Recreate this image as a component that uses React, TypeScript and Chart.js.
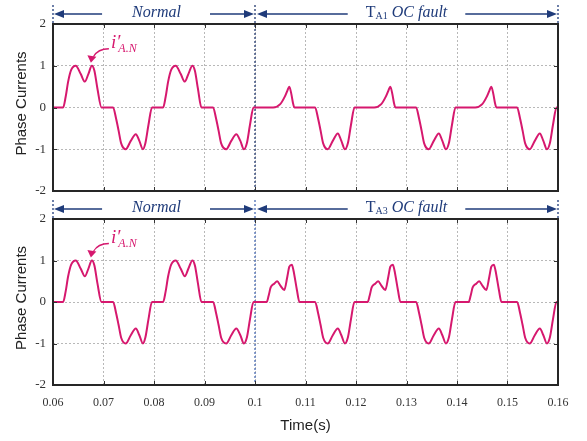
import React, { useEffect, useRef } from 'react';
import { Chart, registerables } from 'chart.js';

Chart.register(...registerables);

// ---------- data ----------
const xTicks = [0.06, 0.07, 0.08, 0.09, 0.1, 0.11, 0.12, 0.13, 0.14, 0.15, 0.16];
const xTickLabels = ['0.06', '0.07', '0.08', '0.09', '0.1', '0.11', '0.12', '0.13', '0.14', '0.15', '0.16'];
const yTicks = [-2, -1, 0, 1, 2];
const yTickLabels = ['-2', '-1', '0', '1', '2'];

const faultStart = 0.1;
const normalLabelAt = 0.0805;
const faultLabelAt = 0.13;
const markerAt = { t: 0.0677, v: 1 };

// Normal operation (both panels), 0.06 .. 0.1 s
const normalTime = [
  0.0600, 0.0620, 0.0625, 0.0630, 0.0636, 0.0645, 0.0655, 0.0663, 0.0670, 0.0677, 0.0682, 0.0688, 0.0696,
  0.0719, 0.0725, 0.0730, 0.0735, 0.0744, 0.0754, 0.0764, 0.0771, 0.0778, 0.0783, 0.0789, 0.0796,
  0.0818, 0.0823, 0.0828, 0.0834, 0.0843, 0.0853, 0.0861, 0.0868, 0.0876, 0.0881, 0.0887, 0.0894,
  0.0917, 0.0923, 0.0928, 0.0933, 0.0943, 0.0953, 0.0963, 0.0971, 0.0978, 0.0984, 0.0990, 0.0997,
];
const normalCurrent = [
  0, 0, 0.25, 0.62, 0.9, 1, 0.8, 0.62, 0.8, 1, 0.88, 0.45, 0,
  0, -0.27, -0.56, -0.86, -1, -0.8, -0.64, -0.8, -1, -0.85, -0.42, 0,
  0, 0.25, 0.62, 0.9, 1, 0.8, 0.62, 0.8, 1, 0.88, 0.45, 0,
  0, -0.27, -0.56, -0.86, -1, -0.8, -0.64, -0.8, -1, -0.85, -0.42, 0,
];

// T_A1 open-circuit fault (top panel), 0.1 .. 0.16 s
const faultA1Time = [
  0.1000, 0.1036, 0.1050, 0.1059, 0.1064, 0.1068, 0.1072, 0.1075, 0.1078,
  0.1119, 0.1125, 0.1130, 0.1135, 0.1144, 0.1154, 0.1164, 0.1171, 0.1178, 0.1184, 0.1190, 0.1197,
  0.1236, 0.1250, 0.1259, 0.1264, 0.1268, 0.1272, 0.1275, 0.1278,
  0.1319, 0.1325, 0.1330, 0.1335, 0.1344, 0.1354, 0.1364, 0.1371, 0.1378, 0.1384, 0.1390, 0.1397,
  0.1436, 0.1450, 0.1459, 0.1464, 0.1468, 0.1472, 0.1475, 0.1478,
  0.1519, 0.1525, 0.1530, 0.1535, 0.1544, 0.1554, 0.1564, 0.1571, 0.1578, 0.1584, 0.1590, 0.1597, 0.1600,
];
const faultA1Current = [
  0, 0, 0.08, 0.26, 0.4, 0.5, 0.32, 0.12, 0,
  0, -0.27, -0.56, -0.86, -1, -0.8, -0.62, -0.8, -1, -0.85, -0.42, 0,
  0, 0.08, 0.26, 0.4, 0.5, 0.32, 0.12, 0,
  0, -0.27, -0.56, -0.86, -1, -0.8, -0.62, -0.8, -1, -0.85, -0.42, 0,
  0, 0.08, 0.26, 0.4, 0.5, 0.32, 0.12, 0,
  0, -0.27, -0.56, -0.86, -1, -0.8, -0.62, -0.8, -1, -0.85, -0.42, 0, 0,
];

// T_A3 open-circuit fault (bottom panel), 0.1 .. 0.16 s
const faultA3Time = [
  0.1000, 0.1023, 0.1027, 0.1031, 0.1038, 0.1044, 0.1050, 0.1058, 0.1064, 0.1068, 0.1073, 0.1076, 0.1083, 0.1088,
  0.1119, 0.1125, 0.1130, 0.1135, 0.1144, 0.1154, 0.1164, 0.1171, 0.1178, 0.1184, 0.1190, 0.1197,
  0.1223, 0.1227, 0.1231, 0.1238, 0.1244, 0.1250, 0.1258, 0.1264, 0.1268, 0.1273, 0.1276, 0.1283, 0.1288,
  0.1319, 0.1325, 0.1330, 0.1335, 0.1344, 0.1354, 0.1364, 0.1371, 0.1378, 0.1384, 0.1390, 0.1397,
  0.1423, 0.1427, 0.1431, 0.1438, 0.1444, 0.1450, 0.1458, 0.1464, 0.1468, 0.1473, 0.1476, 0.1483, 0.1488,
  0.1519, 0.1525, 0.1530, 0.1535, 0.1544, 0.1554, 0.1564, 0.1571, 0.1578, 0.1584, 0.1590, 0.1597, 0.1600,
];
const faultA3Current = [
  0, 0, 0.15, 0.35, 0.44, 0.5, 0.4, 0.29, 0.61, 0.85, 0.9, 0.77, 0.29, 0,
  0, -0.27, -0.56, -0.86, -1, -0.8, -0.64, -0.8, -1, -0.85, -0.42, 0,
  0, 0.15, 0.35, 0.44, 0.5, 0.4, 0.29, 0.61, 0.85, 0.9, 0.77, 0.29, 0,
  0, -0.27, -0.56, -0.86, -1, -0.8, -0.64, -0.8, -1, -0.85, -0.42, 0,
  0, 0.15, 0.35, 0.44, 0.5, 0.4, 0.29, 0.61, 0.85, 0.9, 0.77, 0.29, 0,
  0, -0.27, -0.56, -0.86, -1, -0.8, -0.64, -0.8, -1, -0.85, -0.42, 0, 0,
];

// ---------- styling ----------
const NAVY = '#1f3b7a';
const WAVE = '#d6186e';
const SERIF = '"Liberation Serif", "Times New Roman", serif';
const SANS = '"Liberation Sans", Arial, sans-serif';
const W = 587;
const H = 441;

type PanelCfg = {
  time: number[];
  current: number[];
  sub: string;
  top: number;
  showX: boolean;
  divider: string;
};

function drawArrow(ctx: CanvasRenderingContext2D, from: number, tip: number, y: number) {
  const dir = tip > from ? 1 : -1;
  ctx.beginPath();
  ctx.moveTo(from, y);
  ctx.lineTo(tip - dir * 8, y);
  ctx.stroke();
  ctx.beginPath();
  ctx.moveTo(tip, y);
  ctx.lineTo(tip - dir * 10, y - 4);
  ctx.lineTo(tip - dir * 10, y + 4);
  ctx.closePath();
  ctx.fill();
}

function makeDecor(cfg: PanelCfg) {
  return {
    id: 'decor',
    beforeDatasetsDraw(chart: any) {
      const { ctx, chartArea: a } = chart;
      const xs = chart.scales.x;
      const xm = xs.getPixelForValue(faultStart);
      ctx.save();
      ctx.strokeStyle = cfg.divider;
      ctx.lineWidth = 1.3;
      ctx.setLineDash([2, 2]);
      ctx.beginPath();
      ctx.moveTo(xm, a.top - 19);
      ctx.lineTo(xm, a.bottom);
      ctx.stroke();
      ctx.restore();
    },
    afterDraw(chart: any) {
      const { ctx, chartArea: a } = chart;
      const xs = chart.scales.x;
      const ys = chart.scales.y;
      ctx.save();

      // inward tick marks
      ctx.strokeStyle = '#333';
      ctx.lineWidth = 1;
      ctx.beginPath();
      xTicks.forEach((v) => {
        const px = Math.round(xs.getPixelForValue(v)) + 0.5;
        ctx.moveTo(px, a.bottom);
        ctx.lineTo(px, a.bottom - 4);
        ctx.moveTo(px, a.top);
        ctx.lineTo(px, a.top + 4);
      });
      yTicks.forEach((v) => {
        const py = Math.round(ys.getPixelForValue(v)) + 0.5;
        ctx.moveTo(a.left, py);
        ctx.lineTo(a.left + 4, py);
        ctx.moveTo(a.right, py);
        ctx.lineTo(a.right - 4, py);
      });
      ctx.stroke();

      // frame
      ctx.strokeStyle = '#262626';
      ctx.lineWidth = 2;
      ctx.strokeRect(a.left, a.top, a.right - a.left, a.bottom - a.top);

      // annotation row
      const x0 = xs.getPixelForValue(0.06);
      const xm = xs.getPixelForValue(faultStart);
      const x1 = xs.getPixelForValue(0.16);
      const rowY = a.top - 10;
      const baseY = a.top - 7.5;

      ctx.strokeStyle = NAVY;
      ctx.lineWidth = 1.3;
      ctx.setLineDash([2, 2]);
      ctx.beginPath();
      ctx.moveTo(x0, a.top - 19);
      ctx.lineTo(x0, a.top);
      ctx.moveTo(x1, a.top - 19);
      ctx.lineTo(x1, a.top);
      ctx.stroke();
      ctx.setLineDash([]);

      ctx.fillStyle = NAVY;
      ctx.lineWidth = 1.4;
      ctx.textBaseline = 'alphabetic';

      // "Normal"
      ctx.font = `italic 16px ${SERIF}`;
      ctx.textAlign = 'center';
      const cN = xs.getPixelForValue(normalLabelAt);
      ctx.fillText('Normal', cN, baseY);
      const wN = ctx.measureText('Normal').width;
      drawArrow(ctx, cN - wN / 2 - 30, x0 + 1, rowY);
      drawArrow(ctx, cN + wN / 2 + 29, xm - 1, rowY);

      // "T_Ax OC fault"
      const parts = [
        { text: 'T', font: `16px ${SERIF}`, dy: 0 },
        { text: cfg.sub, font: `10px ${SERIF}`, dy: 2 },
        { text: ' OC fault', font: `italic 16px ${SERIF}`, dy: 0 },
      ];
      let total = 0;
      const widths = parts.map((p) => {
        ctx.font = p.font;
        const w = ctx.measureText(p.text).width;
        total += w;
        return w;
      });
      const cF = xs.getPixelForValue(faultLabelAt);
      let px = cF - total / 2;
      ctx.textAlign = 'left';
      parts.forEach((p, i) => {
        ctx.font = p.font;
        ctx.fillText(p.text, px, baseY + p.dy);
        px += widths[i];
      });
      drawArrow(ctx, cF - total / 2 - 18, xm + 2, rowY);
      drawArrow(ctx, cF + total / 2 + 18, x1 - 1, rowY);

      // i'_{A.N} marker
      const tipX = xs.getPixelForValue(markerAt.t);
      const tipY = ys.getPixelForValue(markerAt.v) - 3;
      ctx.strokeStyle = WAVE;
      ctx.fillStyle = WAVE;
      ctx.lineWidth = 1.3;
      ctx.beginPath();
      ctx.moveTo(tipX + 17, tipY - 14);
      ctx.quadraticCurveTo(tipX + 6, tipY - 14, tipX + 1.5, tipY - 6);
      ctx.stroke();
      ctx.beginPath();
      ctx.moveTo(tipX - 1, tipY);
      ctx.lineTo(tipX - 4.5, tipY - 7.5);
      ctx.lineTo(tipX + 4.5, tipY - 6);
      ctx.closePath();
      ctx.fill();
      ctx.font = `italic 19px ${SERIF}`;
      ctx.textAlign = 'left';
      const ix = tipX + 19;
      ctx.fillText('i\u2032', ix, tipY - 15);
      const wi = ctx.measureText('i\u2032').width;
      ctx.font = `italic 12px ${SERIF}`;
      ctx.fillText('A.N', ix + wi - 2, tipY - 11);

      // axis titles
      ctx.fillStyle = '#222';
      ctx.font = `15px ${SANS}`;
      ctx.textAlign = 'center';
      ctx.textBaseline = 'middle';
      ctx.save();
      ctx.translate(22, (a.top + a.bottom) / 2 - 4);
      ctx.rotate(-Math.PI / 2);
      ctx.fillText('Phase Currents', 0, 0);
      ctx.restore();
      if (cfg.showX) {
        ctx.fillText('Time(s)', (a.left + a.right) / 2, a.bottom + 41);
      }

      ctx.restore();
    },
  };
}

function createChart(canvas: HTMLCanvasElement, cfg: PanelCfg) {
  const points = cfg.time.map((t, i) => ({ x: t, y: cfg.current[i] }));
  const plotH = 167;
  return new Chart(canvas, {
    type: 'line',
    data: {
      datasets: [
        {
          data: points,
          borderColor: WAVE,
          borderWidth: 2,
          pointRadius: 0,
          cubicInterpolationMode: 'monotone',
          fill: false,
        },
      ],
    },
    options: {
      animation: false,
      responsive: false,
      events: [],
      layout: {
        padding: { top: cfg.top, right: 29, left: 0, bottom: cfg.showX ? 0 : H - cfg.top - plotH },
      },
      plugins: { legend: { display: false }, tooltip: { enabled: false } },
      scales: {
        x: {
          type: 'linear',
          min: 0.06,
          max: 0.16,
          afterBuildTicks: (s: any) => {
            s.ticks = xTicks.map((v) => ({ value: v }));
          },
          afterFit: (s: any) => {
            s.height = cfg.showX ? 56 : 0;
          },
          ticks: {
            display: cfg.showX,
            autoSkip: false,
            maxRotation: 0,
            padding: 11,
            color: '#333',
            font: { family: SERIF, size: 12 },
            callback: (_v: any, i: number) => xTickLabels[i],
          },
          grid: { color: '#b8b8b8', lineWidth: 1, drawTicks: false },
          border: { display: false, dash: [2, 2] },
        },
        y: {
          type: 'linear',
          min: -2,
          max: 2,
          afterBuildTicks: (s: any) => {
            s.ticks = yTicks.map((v) => ({ value: v }));
          },
          afterFit: (s: any) => {
            s.width = 53;
          },
          ticks: {
            padding: 7,
            color: '#333',
            font: { family: SERIF, size: 13 },
            callback: (_v: any, i: number) => yTickLabels[i],
          },
          grid: { color: '#b8b8b8', lineWidth: 1, drawTicks: false },
          border: { display: false, dash: [2, 2] },
        },
      },
    } as any,
    plugins: [makeDecor(cfg) as any],
  });
}

export default function App() {
  const topRef = useRef<HTMLCanvasElement>(null);
  const botRef = useRef<HTMLCanvasElement>(null);

  useEffect(() => {
    const top = createChart(topRef.current!, {
      time: [...normalTime, ...faultA1Time],
      current: [...normalCurrent, ...faultA1Current],
      sub: 'A1',
      top: 24,
      showX: false,
      divider: '#22386e',
    });
    const bot = createChart(botRef.current!, {
      time: [...normalTime, ...faultA3Time],
      current: [...normalCurrent, ...faultA3Current],
      sub: 'A3',
      top: 219,
      showX: true,
      divider: '#4a6cb4',
    });
    return () => {
      top.destroy();
      bot.destroy();
    };
  }, []);

  const cs: React.CSSProperties = { position: 'absolute', left: 0, top: 0 };
  return (
    <div style={{ position: 'absolute', left: 0, top: 0, width: W, height: H, background: '#fff' }}>
      <canvas ref={topRef} width={W} height={H} style={cs} />
      <canvas ref={botRef} width={W} height={H} style={cs} />
    </div>
  );
}
